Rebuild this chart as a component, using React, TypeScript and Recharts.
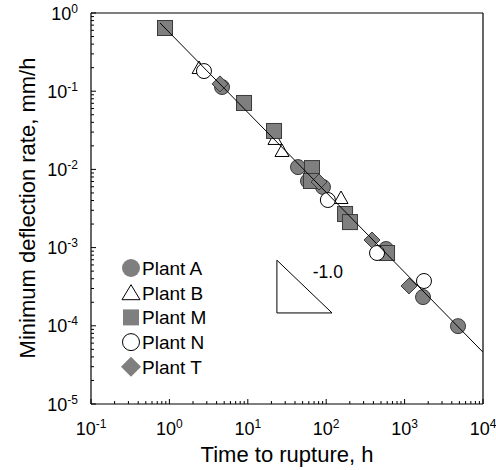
import React from "react";
import { ScatterChart, Scatter, XAxis, YAxis, ReferenceLine } from "recharts";

// Time to rupture (h) vs minimum deflection rate (mm/h)
const plantA = [
  [4.69, 0.113],
  [43.7, 0.0107],
  [58.6, 0.00711],
  [91, 0.00596],
  [580, 0.00096],
  [1718, 0.000233],
  [4800, 0.000099],
];
const plantB = [
  [2.39, 0.192],
  [22.2, 0.0238],
  [27.3, 0.0167],
  [154.5, 0.00418],
];
const plantM = [
  [0.879, 0.643],
  [8.95, 0.0707],
  [21.6, 0.031],
  [65.9, 0.0104],
  [64, 0.00711],
  [174, 0.00269],
  [201, 0.00212],
  [597, 0.000853],
];
const plantN = [
  [2.76, 0.181],
  [105, 0.00406],
  [445, 0.000853],
  [1766, 0.000374],
];
const plantT = [
  [4.42, 0.124],
  [80.9, 0.0069],
  [384, 0.00125],
  [1138, 0.000323],
];
// fitted line, slope -1.0
const fitLine = [
  [0.76, 0.745],
  [10000, 0.000046],
];
// slope indicator triangle
const slopeTri = [
  [23.5, 0.00069],
  [23.5, 0.000146],
  [118.6, 0.000146],
  [23.5, 0.00069],
];
const slopeLabel = [[105, 0.00049]];

const xMajor = [0.1, 1, 10, 100, 1000, 10000];
const yMajor = [0.00001, 0.0001, 0.001, 0.01, 0.1, 1];
const legendNames = ["Plant A", "Plant B", "Plant M", "Plant N", "Plant T"];

const FONT = "Arial, 'Liberation Sans', sans-serif";
const GRAY = "#7f7f7f";
const EDGE = "#3a3a3a";

const toPts = (arr: number[][]) => arr.map(([t, r]) => ({ t, r }));

// minor ticks 1..9 x 10^k between the major ones
const withMinor = (majors: number[]) => {
  const out: number[] = [];
  for (let i = 0; i < majors.length - 1; i++) {
    for (let m = 1; m <= 9; m++) out.push(majors[i] * m);
  }
  out.push(majors[majors.length - 1]);
  return out;
};

const isMajor = (v: number) => Math.abs(Math.log10(v) - Math.round(Math.log10(v))) < 1e-6;

const XTick = ({ x, y, payload }: any) => {
  const v = payload.value;
  const major = isMajor(v);
  return (
    <g>
      <line x1={x} y1={y} x2={x} y2={y - (major ? 5 : 3)} stroke="#000" />
      {major && (
        <text x={x} y={y + 31} textAnchor="middle" fontFamily={FONT} fontSize={18} fill="#000">
          10
          <tspan dy={-7} fontSize={12}>
            {Math.round(Math.log10(v))}
          </tspan>
        </text>
      )}
    </g>
  );
};

const YTick = ({ x, y, payload }: any) => {
  const v = payload.value;
  const major = isMajor(v);
  return (
    <g>
      <line x1={x} y1={y} x2={x + (major ? 5 : 3)} y2={y} stroke="#000" />
      {major && (
        <text x={x - 13} y={y + 6.5} textAnchor="end" fontFamily={FONT} fontSize={18} fill="#000">
          10
          <tspan dy={-7} fontSize={12}>
            {Math.round(Math.log10(v))}
          </tspan>
        </text>
      )}
    </g>
  );
};

// marker shapes
const Circle = (fill: string, r = 7.5) => (p: any) => (
  <circle cx={p.cx} cy={p.cy} r={r} fill={fill} stroke={fill === "#fff" ? "#000" : EDGE} strokeWidth={1} />
);
const Square = (p: any) => (
  <rect x={p.cx - 7.5} y={p.cy - 7.5} width={15} height={15} fill={GRAY} stroke={EDGE} strokeWidth={1} />
);
const Triangle = (p: any) => (
  <polygon
    points={`${p.cx},${p.cy - 8} ${p.cx - 7},${p.cy + 4.5} ${p.cx + 7},${p.cy + 4.5}`}
    fill="#fff"
    stroke="#000"
    strokeWidth={1}
  />
);
const Diamond = (p: any) => (
  <polygon
    points={`${p.cx},${p.cy - 8} ${p.cx + 8},${p.cy} ${p.cx},${p.cy + 8} ${p.cx - 8},${p.cy}`}
    fill={GRAY}
    stroke={EDGE}
    strokeWidth={1}
  />
);
const Nothing = () => <g />;

const LegendMarker = ({ i, cx, cy }: { i: number; cx: number; cy: number }) => {
  if (i === 0) return <circle cx={cx} cy={cy} r={9} fill={GRAY} />;
  if (i === 1)
    return <polygon points={`${cx},${cy - 8} ${cx - 9},${cy + 7} ${cx + 9},${cy + 7}`} fill="#fff" stroke="#000" />;
  if (i === 2) return <rect x={cx - 8} y={cy - 8} width={16} height={16} fill={GRAY} />;
  if (i === 3) return <circle cx={cx} cy={cy} r={8.5} fill="#fff" stroke="#000" />;
  return <polygon points={`${cx},${cy - 10} ${cx + 10},${cy} ${cx},${cy + 10} ${cx - 10},${cy}`} fill={GRAY} />;
};

export default function App() {
  return (
    <div style={{ position: "absolute", left: 0, top: 0, width: 496, height: 470, background: "#fff" }}>
      <ScatterChart width={496} height={470} margin={{ top: 13, right: 13, bottom: 0, left: 0 }}>
        <XAxis
          dataKey="t"
          type="number"
          scale="log"
          domain={[0.1, 10000]}
          ticks={withMinor(xMajor)}
          interval={0}
          allowDataOverflow
          height={66}
          tickSize={0}
          tickMargin={0}
          tickLine={false}
          axisLine={{ stroke: "#000", strokeWidth: 1.2 }}
          tick={<XTick />}
        />
        <YAxis
          dataKey="r"
          type="number"
          scale="log"
          domain={[0.00001, 1]}
          ticks={withMinor(yMajor)}
          interval={0}
          allowDataOverflow
          width={91}
          tickSize={0}
          tickMargin={0}
          tickLine={false}
          axisLine={{ stroke: "#000", strokeWidth: 1.2 }}
          tick={<YTick />}
        />
        <ReferenceLine y={1} stroke="#000" strokeWidth={1.2} />
        <ReferenceLine x={10000} stroke="#000" strokeWidth={1.2} />
        <Scatter name="Plant A" data={toPts(plantA)} shape={Circle(GRAY)} isAnimationActive={false} />
        <Scatter name="Plant B" data={toPts(plantB)} shape={Triangle} isAnimationActive={false} />
        <Scatter name="Plant M" data={toPts(plantM)} shape={Square} isAnimationActive={false} />
        <Scatter name="Plant N" data={toPts(plantN)} shape={Circle("#fff")} isAnimationActive={false} />
        <Scatter name="Plant T" data={toPts(plantT)} shape={Diamond} isAnimationActive={false} />
        <Scatter
          data={toPts(fitLine)}
          line={{ stroke: "#000", strokeWidth: 1 }}
          shape={Nothing}
          isAnimationActive={false}
        />
        <Scatter
          data={toPts(slopeTri)}
          line={{ stroke: "#000", strokeWidth: 1 }}
          shape={Nothing}
          isAnimationActive={false}
        />
        <Scatter
          data={toPts(slopeLabel)}
          shape={(p: any) => (
            <text x={p.cx} y={p.cy + 6} textAnchor="middle" fontFamily={FONT} fontSize={17.5} fill="#000">
              -1.0
            </text>
          )}
          isAnimationActive={false}
        />
      </ScatterChart>
      <svg
        width={496}
        height={470}
        style={{ position: "absolute", left: 0, top: 0, pointerEvents: "none" }}
      >
        <text x={287} y={462} textAnchor="middle" fontFamily={FONT} fontSize={22} fill="#000">
          Time to rupture, h
        </text>
        <text
          x={35}
          y={208}
          textAnchor="middle"
          fontFamily={FONT}
          fontSize={22}
          fill="#000"
          transform="rotate(-90, 35, 208)"
        >
          Minimum deflection rate, mm/h
        </text>
        {legendNames.map((name, i) => (
          <g key={name}>
            <LegendMarker i={i} cx={131} cy={268 + i * 24.7} />
            <text x={142} y={268 + i * 24.7 + 7} fontFamily={FONT} fontSize={19} fill="#000">
              {name}
            </text>
          </g>
        ))}
      </svg>
    </div>
  );
}
